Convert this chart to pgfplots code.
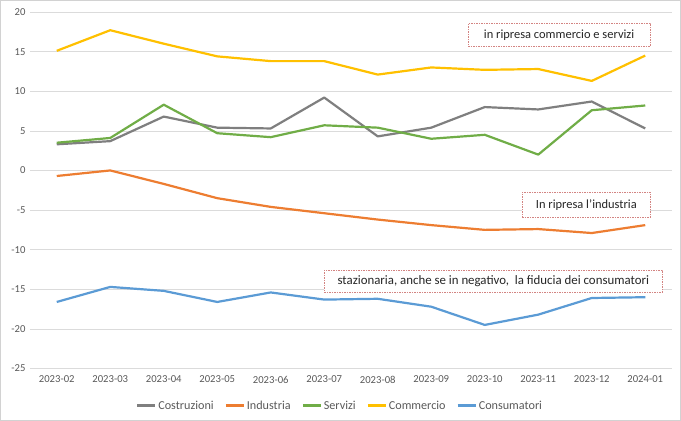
\documentclass[border=0pt]{standalone}
\usepackage{fontspec}
\setmainfont{Carlito}
\usepackage{pgfplots}
\pgfplotsset{compat=1.18}
\definecolor{cCos}{HTML}{7F7F7F}
\definecolor{cInd}{HTML}{ED7D31}
\definecolor{cSer}{HTML}{70AD47}
\definecolor{cCom}{HTML}{FFC000}
\definecolor{cCon}{HTML}{5B9BD5}
\definecolor{tick}{HTML}{595959}
\definecolor{boxc}{HTML}{C0504D}
\begin{document}
\begin{tikzpicture}[x=1bp,y=1bp]
\path[use as bounding box] (-30,-52) rectangle (651,368.5);
\draw[gray!35, line width=0.8bp] (-29.6,-51.6) rectangle (650.6,368.1);
\begin{axis}[
  at={(0,0)}, anchor=south west,
  scale only axis, width=642bp, height=356.5bp,
  xmin=-0.5, xmax=11.5, ymin=-25, ymax=20,
  xtick={0,...,11},
  xticklabels={2023-02,2023-03,2023-04,2023-05,2023-06,2023-07,2023-08,2023-09,2023-10,2023-11,2023-12,2024-01},
  ytick={-25,-20,...,20},
  ymajorgrids, grid style={draw=gray!28, line width=0.6bp},
  axis line style={draw=none}, tick style={draw=none},
  /pgf/number format/assume math mode=true,
  ticklabel style={font=\fontsize{10.7}{12}\selectfont, text=tick},
  yticklabel style={xshift=-1bp},
  xticklabel style={yshift=-4bp},
  legend columns=5,
  legend style={at={(0.483,-0.104)}, anchor=center, draw=none, fill=none,
    font=\fontsize{12.2}{14}\selectfont, text=tick,
    /tikz/every even column/.append style={column sep=9bp}},
  legend image code/.code={\draw[#1, line width=2.2bp] (0bp,0bp) -- (18bp,0bp);},
  every axis plot/.append style={line width=2.2bp, line join=round},
]
\addplot[cCos] coordinates {(0,3.3)(1,3.7)(2,6.8)(3,5.4)(4,5.3)(5,9.2)(6,4.3)(7,5.4)(8,8.0)(9,7.7)(10,8.7)(11,5.3)};
\addlegendentry{Costruzioni}
\addplot[cInd] coordinates {(0,-0.7)(1,0.0)(2,-1.7)(3,-3.5)(4,-4.6)(5,-5.4)(6,-6.2)(7,-6.9)(8,-7.5)(9,-7.4)(10,-7.9)(11,-6.9)};
\addlegendentry{Industria}
\addplot[cSer] coordinates {(0,3.5)(1,4.1)(2,8.3)(3,4.7)(4,4.2)(5,5.7)(6,5.4)(7,4.0)(8,4.5)(9,2.0)(10,7.6)(11,8.2)};
\addlegendentry{Servizi}
\addplot[cCom] coordinates {(0,15.1)(1,17.7)(2,16.0)(3,14.4)(4,13.8)(5,13.8)(6,12.1)(7,13.0)(8,12.7)(9,12.8)(10,11.3)(11,14.5)};
\addlegendentry{Commercio}
\addplot[cCon] coordinates {(0,-16.6)(1,-14.7)(2,-15.2)(3,-16.6)(4,-15.4)(5,-16.3)(6,-16.2)(7,-17.2)(8,-19.5)(9,-18.2)(10,-16.1)(11,-16.0)};
\addlegendentry{Consumatori}
\tikzset{ann/.style={draw=boxc!70, dash pattern=on 1.5bp off 1bp, line width=0.7bp, fill=white, font=\fontsize{12.5}{14}\selectfont, text=black!85, inner sep=0pt}}
\node[ann, minimum width=182bp, minimum height=23bp] at (axis cs:9.39,17.1) {in ripresa commercio e servizi};
\node[ann, minimum width=128bp, minimum height=25bp] at (axis cs:9.9,-4.36) {In ripresa l'industria};
\node[ann, minimum width=338bp, minimum height=22bp, font=\fontsize{12.9}{14}\selectfont] at (axis cs:8.16,-14.0) {stazionaria, anche se in negativo,\ \ la fiducia dei consumatori};
\end{axis}
\end{tikzpicture}
\end{document}
